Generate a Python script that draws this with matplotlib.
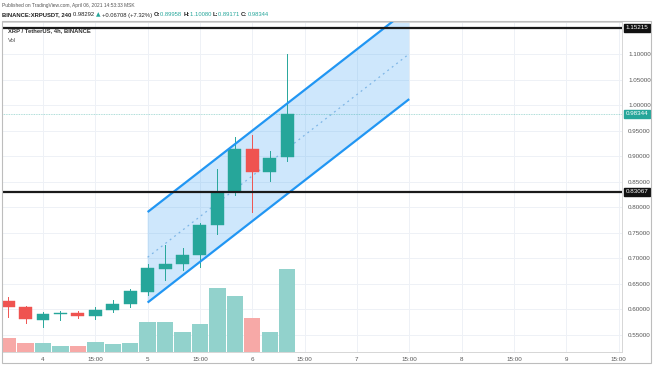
import matplotlib
matplotlib.use('Agg')
from matplotlib import pyplot as plt
from matplotlib.patches import Rectangle, Polygon

plt.rcParams['font.family'] = ['Liberation Sans', 'DejaVu Sans']

# 4h candles, index 0 = Apr 4 03:00 MSK
idx = list(range(-2, 15))
opens = [0.616, 0.605, 0.579, 0.5905, 0.593, 0.587, 0.5985, 0.610, 0.635,
         0.680, 0.689, 0.707, 0.766, 0.830, 0.914, 0.869, 0.89958]
closes = [0.605, 0.581, 0.592, 0.5925, 0.587, 0.5985, 0.610, 0.636, 0.6805,
          0.690, 0.707, 0.766, 0.830, 0.914, 0.869, 0.8975, 0.98344]
highs = [0.625, 0.607, 0.594, 0.597, 0.597, 0.605, 0.618, 0.640, 0.690,
         0.727, 0.720, 0.770, 0.8745, 0.938, 0.942, 0.910, 1.1008]
lows = [0.585, 0.573, 0.566, 0.580, 0.584, 0.581, 0.594, 0.605, 0.628,
        0.658, 0.678, 0.684, 0.748, 0.825, 0.792, 0.851, 0.89171]
volumes = [137, 93, 93, 60, 63, 97, 83, 93, 297, 297, 203, 280, 643, 560, 337, 200, 830]

tick_pos = [0, 3, 6, 9, 12, 15, 18, 21, 24, 27, 30, 33]
tick_labels = ['4', '15:00', '5', '15:00', '6', '15:00', '7', '15:00', '8', '15:00', '9', '15:00']
price_ticks = [0.55, 0.60, 0.65, 0.70, 0.75, 0.80, 0.85, 0.90, 0.95, 1.00, 1.05, 1.10]

# parallel channel: start/end index, lower line price at ends, channel height
chan_x = [6, 21]
chan_low = [0.6135, 1.0125]
chan_height = 0.1775
level_top = 1.15215
level_mid = 0.83067
last_price = 0.98344

green = '#26a69a'
red = '#ef5350'
vgreen = '#92d2cc'
vred = '#f7a9a7'
blue = '#2196f3'

W, H = 654, 366
fig = plt.figure(figsize=(W / 100, H / 100), dpi=100)
ax = fig.add_axes([2 / W, (H - 352) / H, 620 / W, 330 / H])
ax.set_xlim(-2.35, 33.2)
ax.set_ylim(0.5165, 1.1637)

# volume on a twin axis (created first, twinx resets the tick side)
ax2 = ax.twinx()
ax2.set_ylim(0, 3300)
ax2.axis('off')
vcols = [vgreen if c >= o else vred for o, c in zip(opens, closes)]
ax2.bar(idx, volumes, width=0.94, color=vcols, linewidth=0)

for s in ax.spines.values():
    s.set_color('#d6d6d6')
    s.set_linewidth(0.7)

ax.set_xticks(tick_pos)
ax.set_xticklabels(tick_labels)
ax.set_yticks(price_ticks)
ax.set_yticklabels(['%.5f' % p for p in price_ticks])
ax.yaxis.tick_right()
ax.tick_params(axis='both', length=0, labelsize=4.5, colors='#555555')
ax.tick_params(axis='x', pad=3.5)
ax.tick_params(axis='y', pad=4.5, labelleft=False, labelright=True)
for lab in ax.get_xticklabels():
    lab.set_clip_on(False)
ax.grid(True, color='#eef1f6', linewidth=0.7)
ax.set_axisbelow(True)

# channel
x0, x1 = chan_x
lo0, lo1 = chan_low
up0, up1 = lo0 + chan_height, lo1 + chan_height
ax.add_patch(Polygon([(x0, lo0), (x1, lo1), (x1, up1), (x0, up0)], closed=True,
                     facecolor=blue, alpha=0.22, edgecolor='none', zorder=1))
ax.plot([x0, x1], [lo0, lo1], color=blue, lw=1.6, zorder=4, solid_capstyle='butt')
ax.plot([x0, x1], [up0, up1], color=blue, lw=1.6, zorder=4, solid_capstyle='butt')
ax.plot([x0, x1], [(lo0 + up0) / 2, (lo1 + up1) / 2], color='#7fb6e6', lw=0.9,
        ls=(0, (1.5, 3)), zorder=2)

# candles
for i, o, c, h, l in zip(idx, opens, closes, highs, lows):
    col = green if c >= o else red
    ax.plot([i, i], [l, h], color=col, lw=0.7, zorder=3)
    ax.add_patch(Rectangle((i - 0.37, min(o, c)), 0.74, max(abs(c - o), 0.0015),
                           facecolor=col, edgecolor=col, lw=0.3, zorder=3))

# levels
ax.axhline(level_top, color='#1a1a1a', lw=1.6, zorder=5)
ax.axhline(level_mid, color='#1a1a1a', lw=1.6, zorder=5)
ax.axhline(last_price, color=green, lw=0.6, alpha=0.5, ls=(0, (1, 1)), zorder=2)

# price tags
for p, bg in [(level_top, '#111111'), (last_price, green), (level_mid, '#111111')]:
    ax.annotate('%.5f' % p, xy=(1, p), xycoords=('axes fraction', 'data'),
                xytext=(2.5, 0), textcoords='offset points', fontsize=4.5, color='white',
                va='center', ha='left', annotation_clip=False, zorder=7,
                bbox=dict(boxstyle='square,pad=0.25', fc=bg, ec=bg))

ax.text(0.01, 0.975, 'XRP / TetherUS, 4h, BINANCE', transform=ax.transAxes,
        fontsize=4.2, color='#333333', fontweight='bold', va='center', zorder=6)
ax.text(0.01, 0.95, 'Vol', transform=ax.transAxes, fontsize=4.2, color='#555555',
        va='top', zorder=6)

# outer frame
fig.add_artist(Rectangle((2 / W, (H - 363) / H), 649 / W, 342 / H, transform=fig.transFigure,
                         fill=False, edgecolor='#bdbdbd', lw=0.8))

# header
fig.text(2 / W, 1 - 5 / H, 'Published on TradingView.com, April 06, 2021 14:53:33 MSK',
         fontsize=3.5, color='#555555', va='center')
parts = [('BINANCE:XRPUSDT, 240 ', '#222222', 'bold'),
         ('0.98292 ', '#222222', 'normal'),
         ('\u25b2 ', green, 'normal'),
         ('+0.06708 (+7.32%) ', '#222222', 'normal'),
         ('O:', '#222222', 'bold'), ('0.89958 ', green, 'normal'),
         ('H:', '#222222', 'bold'), ('1.10080 ', green, 'normal'),
         ('L:', '#222222', 'bold'), ('0.89171 ', green, 'normal'),
         ('C:', '#222222', 'bold'), ('0.98344', green, 'normal')]
r = fig.canvas.get_renderer()
xp = 2
for s, col, fw in parts:
    t = fig.text(xp / W, 1 - 15 / H, s, fontsize=4.25, color=col, fontweight=fw,
                 va='center', family=['DejaVu Sans'] if s.startswith('\u25b2') else None)
    xp += t.get_window_extent(r).width

fig.savefig('out.png', dpi=100)
